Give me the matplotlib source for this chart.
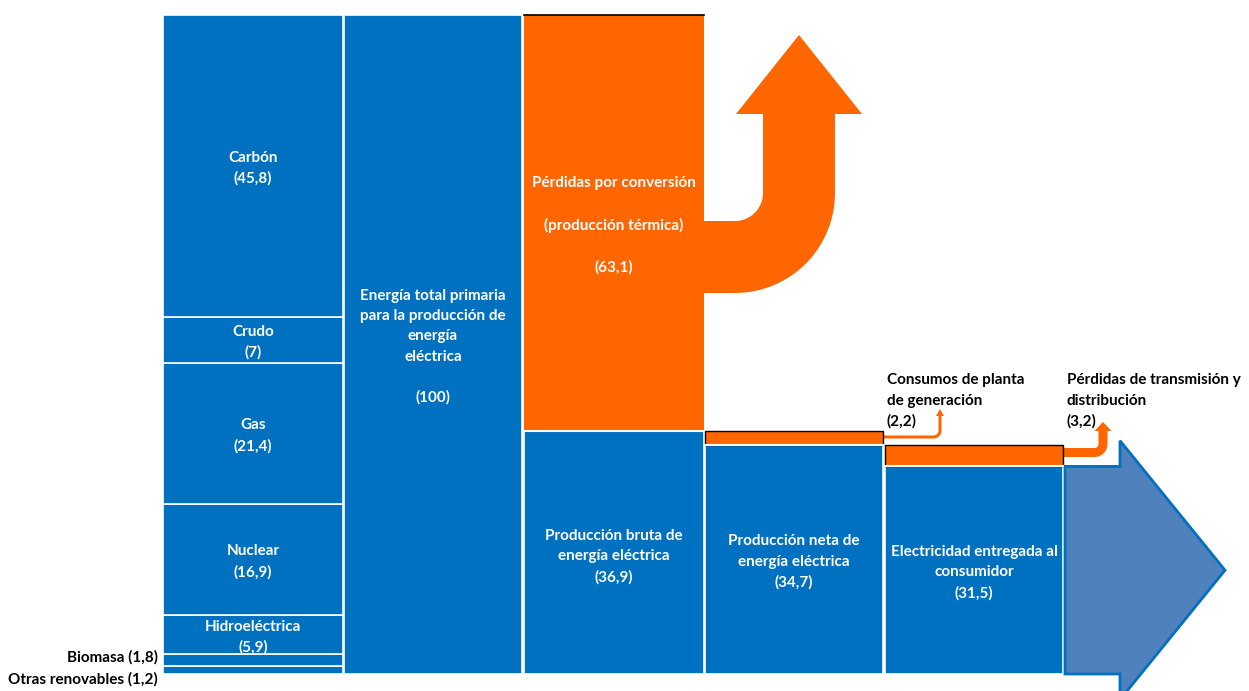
import numpy as np
import matplotlib
matplotlib.use("Agg")
import matplotlib.pyplot as plt
from matplotlib.patches import Rectangle, Polygon

# --- datos (porcentaje de la energía primaria) ---
fuentes = ["Carbón", "Crudo", "Gas", "Nuclear", "Hidroeléctrica", "Biomasa", "Otras renovables"]
valores_fuentes = [45.8, 7, 21.4, 16.9, 5.9, 1.8, 1.2]
energia_total = 100
perdidas_conversion = 63.1
produccion_bruta = 36.9
consumos_planta = 2.2
produccion_neta = 34.7
perdidas_transmision = 3.2
electricidad_entregada = 31.5

AZUL = "#0070C0"
NARANJA = "#FF6600"
AZUL_FLECHA = "#4F81BD"

plt.rcParams["font.family"] = ["Lato", "DejaVu Sans"]
FS = 11
LS = 1.57

# escala vertical: unidades de energía -> píxeles
K = 6.59        # píxeles por unidad
BASE = 674      # fila de píxel de la línea base
W, H = 1249, 691
DY = -0.35      # ajuste vertical de las etiquetas


def u(py):
    return (BASE - py) / K


def fmt(v):
    return "(" + f"{v:g}".replace(".", ",") + ")"


fig = plt.figure(figsize=(W / 100, H / 100), dpi=100)
ax = fig.add_axes([0, 0, 1, 1])
ax.set_xlim(0, W)
ax.set_ylim(u(H), u(0))
ax.axis("off")

# columnas (izquierda, ancho) en píxeles
cols = [(163, 180), (344, 178), (524, 180), (705, 178), (885, 178)]


def caja(col, y0, h, color, edge="white", lw=1.2, z=2):
    x, w = cols[col]
    ax.add_patch(Rectangle((x, y0), w, h, facecolor=color, edgecolor=edge,
                           linewidth=lw, zorder=z))


def texto(col, y, s, color="white", ls=LS):
    x, w = cols[col]
    ax.text(x + w / 2, y + DY, s, ha="center", va="center", color=color,
            fontsize=FS, fontweight="bold", linespacing=ls, zorder=5)


# columna 1: fuentes apiladas (de abajo hacia arriba)
base = 0.0
for nombre, v in zip(fuentes[::-1], valores_fuentes[::-1]):
    caja(0, base, v, AZUL)
    centro = base + v / 2
    if v >= 5:
        texto(0, centro, f"{nombre}\n{fmt(v)}")
    base += v

# etiquetas externas de las fuentes pequeñas
y_otras = valores_fuentes[-1]
ax.text(158, y_otras + valores_fuentes[-2] / 2 + 0.4, f"{fuentes[-2]} {fmt(valores_fuentes[-2])}",
        ha="right", va="center", fontsize=FS, fontweight="bold", color="black")
ax.text(158, u(679), f"{fuentes[-1]} {fmt(valores_fuentes[-1])}",
        ha="right", va="center", fontsize=FS, fontweight="bold", color="black")

# columna 2: energía total
caja(1, 0, energia_total, AZUL)
texto(1, energia_total / 2,
      f"Energía total primaria\npara la producción de\nenergía\neléctrica\n\n{fmt(energia_total)}")

# columna 3: producción bruta + pérdidas por conversión
caja(2, 0, produccion_bruta, AZUL)
caja(2, produccion_bruta, perdidas_conversion, NARANJA, edge="none")
x3, w3 = cols[2]
ax.plot([x3, x3 + w3], [produccion_bruta + perdidas_conversion] * 2, color="black", lw=1.2, zorder=3)
ax.plot([x3, x3 + w3], [produccion_bruta] * 2, color="white", lw=1.5, zorder=3)
texto(2, produccion_bruta + perdidas_conversion / 2,
      f"Pérdidas por conversión\n\n(producción térmica)\n\n{fmt(perdidas_conversion)}", ls=1.6)
texto(2, produccion_bruta / 2 - 0.3, f"Producción bruta de\nenergía eléctrica\n{fmt(produccion_bruta)}")

# columna 4: producción neta + consumos de planta
caja(3, 0, produccion_neta, AZUL)
caja(3, produccion_neta, consumos_planta, NARANJA, edge="black", lw=1.0, z=3)
ax.plot([cols[3][0], cols[3][0] + cols[3][1]], [produccion_neta] * 2, color="white", lw=1.5, zorder=4)
texto(3, produccion_neta / 2, f"Producción neta de\nenergía eléctrica\n{fmt(produccion_neta)}")

# columna 5: electricidad entregada + pérdidas T&D
caja(4, 0, electricidad_entregada, AZUL)
caja(4, electricidad_entregada, perdidas_transmision, NARANJA, edge="black", lw=1.0, z=3)
ax.plot([cols[4][0], cols[4][0] + cols[4][1]], [electricidad_entregada] * 2, color="white", lw=1.5, zorder=4)
texto(4, electricidad_entregada / 2,
      f"Electricidad entregada al\nconsumidor\n{fmt(electricidad_entregada)}")

# flecha final hacia el consumidor
x0, xb, xt = 1065, 1120, 1225
ext = 3.9
e = electricidad_entregada
flecha = [(x0, 0), (x0, e), (xb, e), (xb, e + ext), (xt, e / 2),
          (xb, -ext), (xb, 0)]
ax.add_patch(Polygon(flecha, closed=True, facecolor=AZUL_FLECHA, edgecolor=AZUL,
                     linewidth=2, joinstyle="miter", zorder=2))


def flecha_doblada(x0, ys, w, xv, r, yh, hw, ytip):
    """Flecha horizontal que gira hacia arriba (coordenadas en píxeles)."""
    cx = xv - w / 2 - r
    cy = ys - w / 2 - r
    R = r + w
    t = np.linspace(0, np.pi / 2, 30)
    pts = [(x0, ys - w / 2), (cx, ys - w / 2)]
    pts += list(zip(cx + r * np.sin(t), cy + r * np.cos(t)))
    pts += [(xv - w / 2, yh), (xv - hw, yh), (xv, ytip), (xv + hw, yh), (xv + w / 2, yh)]
    pts += list(zip(cx + R * np.sin(t[::-1]), cy + R * np.cos(t[::-1])))
    pts += [(cx, ys + w / 2), (x0, ys + w / 2)]
    pts = [(px, u(py)) for px, py in pts]
    ax.add_patch(Polygon(pts, closed=True, facecolor=NARANJA, edgecolor="none", zorder=2))


flecha_doblada(703.5, 257, 72, 799, 28, 114, 63, 35)
flecha_doblada(883.5, 437, 3.0, 940, 5, 416, 4, 409)
flecha_doblada(1063.5, 452.5, 9, 1103, 4, 431, 8.5, 422)

# etiquetas de pérdidas menores
ax.text(887, u(401), f"Consumos de planta\nde generación\n{fmt(consumos_planta)}",
        ha="left", va="center", fontsize=FS, fontweight="bold", color="black", linespacing=LS)
ax.text(1067, u(401), f"Pérdidas de transmisión y\ndistribución\n{fmt(perdidas_transmision)}",
        ha="left", va="center", fontsize=FS, fontweight="bold", color="black", linespacing=LS)

fig.savefig("out.png", dpi=100, facecolor="white")
